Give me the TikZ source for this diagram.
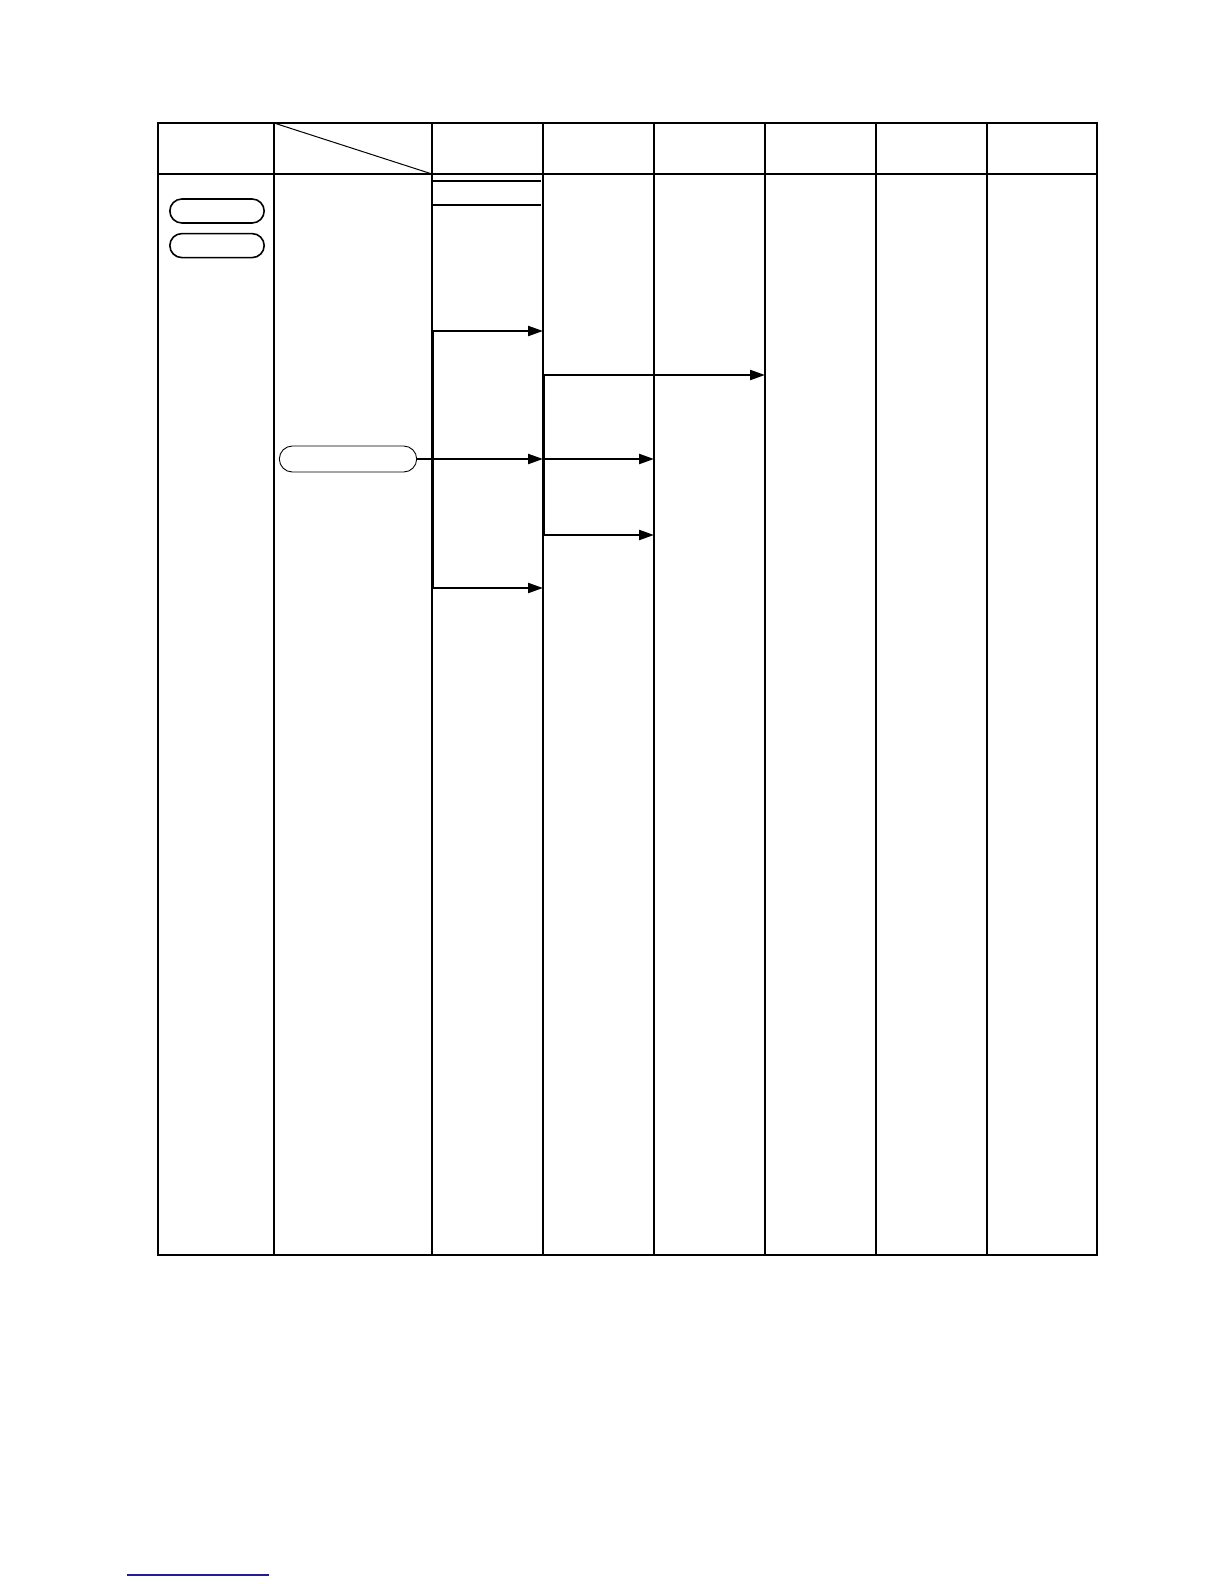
\documentclass[tikz,border=0pt]{standalone}
\usetikzlibrary{positioning,arrows.meta,shapes.misc}
\definecolor{linkblue}{RGB}{30,30,150}
\begin{document}
\begin{tikzpicture}[x=1pt,y=-1pt,
  pill/.style={draw, rounded rectangle, minimum width=101pt, minimum height=24pt, line width=1.6pt},
  flow/.style={-{Triangle[length=15pt,width=10pt]}, line width=2.2pt},
  busline/.style={line width=3pt},
  rule/.style={line width=1.2pt}]
\useasboundingbox (0,0) rectangle (1224,1584);

% table frame and columns
\draw[rule] (158,123) rectangle (1097,1255);
\draw[rule] (158,174) -- (1097,174);
\foreach \x in {274,432,543,654,765,876,987} \draw[rule] (\x,123) -- (\x,1255);
\draw[line width=1pt] (274,123) -- (432,174);
\draw[rule] (432,181) -- (541,181);
\draw[rule] (432,205) -- (541,205);

\coordinate (colC) at (543,0);
\coordinate (colD) at (654,0);
\coordinate (colE) at (765,0);

\node (start) [pill] at (217,211) {};
\node (stop) [pill, below=9pt of start] {};

\node (event) [pill, line width=0.9pt, minimum width=144pt, minimum height=26pt] at (348,459) {};

\coordinate (a1) at (432,331);
\coordinate (a2) at (432,588);
\coordinate (b1) at (543,375);
\coordinate (b2) at (543,535);
\coordinate (b3) at (543,459);

\draw[busline] (a1) -- (a2);
\draw[busline] (b1) -- (b2);

\draw[flow] (event.east) -- (event.east -| colC);
\draw[flow] (a1) -- (a1 -| colC);
\draw[flow] (a2) -- (a2 -| colC);
\draw[flow] (b1) -- (b1 -| colE);
\draw[flow] (b3) -- (b3 -| colD);
\draw[flow] (b2) -- (b2 -| colD);

\draw[linkblue, line width=1.5pt] (127,1575) -- (269,1575);

\end{tikzpicture}
\end{document}
